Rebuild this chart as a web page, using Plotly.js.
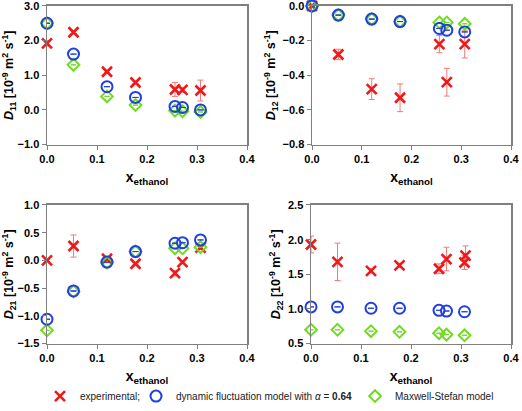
<!DOCTYPE html>
<html>
<head>
<meta charset="utf-8">
<script src="https://cdn.plot.ly/plotly-3.0.1.min.js"></script>
<style>html,body{margin:0;padding:0;background:#fff;}#chart{width:522px;height:411px;}</style>
</head>
<body>
<div id="chart"></div>
<script>
// composition (mole fraction ethanol)
const xEth = [0, 0.053, 0.120, 0.177, 0.256, 0.271, 0.307];
const xEthD22 = [0, 0.053, 0.120, 0.177, 0.256, 0.271, 0.307, 0.309];

// D11
const d11Exp = [1.92, 2.24, 1.10, 0.79, 0.59, 0.58, 0.56];
const d11ExpErr = [0.08, 0.04, 0.03, 0.03, 0.20, 0.07, 0.30];
const d11Dyn = [2.50, 1.61, 0.67, 0.36, 0.10, 0.07, 0.00];
const d11MS = [2.50, 1.30, 0.39, 0.14, -0.02, -0.04, -0.06];

// D12
const d12Exp = [0.00, -0.28, -0.48, -0.53, -0.22, -0.44, -0.22];
const d12ExpErr = [0.00, 0.03, 0.06, 0.08, 0.05, 0.08, 0.08];
const d12Dyn = [0.00, -0.053, -0.076, -0.090, -0.130, -0.140, -0.150];
const d12MS = [0.00, -0.053, -0.076, -0.090, -0.095, -0.095, -0.103];

// D21
const d21Exp = [0.00, 0.26, 0.03, -0.06, -0.23, -0.03, 0.23];
const d21ExpErr = [0.02, 0.20, 0.02, 0.02, 0.05, 0.02, 0.03];
const d21Dyn = [-1.06, -0.55, -0.03, 0.16, 0.31, 0.32, 0.37];
const d21MS = [-1.26, -0.56, -0.04, 0.16, 0.22, 0.22, 0.24];

// D22
const d22Exp = [1.93, 1.68, 1.55, 1.63, 1.58, 1.72, 1.67, 1.77];
const d22ExpErr = [0.12, 0.27, 0.03, 0.03, 0.07, 0.17, 0.10, 0.14];
const d22Dyn = [1.03, 1.03, 1.01, 1.01, 0.98, 0.97, 0.96];
const d22MS = [0.70, 0.70, 0.68, 0.67, 0.65, 0.63, 0.62];

const legendNames = ['experimental;', 'dynamic fluctuation model with <i>α</i> = <b>0.64</b>', 'Maxwell-Stefan model'];
const yTitles = ['<i>D</i><sub>11</sub> [10<sup>-9</sup> m<sup>2</sup> s<sup>-1</sup>]',
                 '<i>D</i><sub>12</sub> [10<sup>-9</sup> m<sup>2</sup> s<sup>-1</sup>]',
                 '<i>D</i><sub>21</sub> [10<sup>-9</sup> m<sup>2</sup> s<sup>-1</sup>]',
                 '<i>D</i><sub>22</sub> [10<sup>-9</sup> m<sup>2</sup> s<sup>-1</sup>]'];
const xTitle = 'x<sub>ethanol</sub>';

const RED = '#f01818', BLUE = '#1f3fe0', GREEN = '#6fdc1e', ERR = '#f07a7a';

const panels = [
  {xs: xEth, exp: d11Exp, err: d11ExpErr, dyn: d11Dyn, ms: d11MS, xa: 'x', ya: 'y'},
  {xs: xEth, exp: d12Exp, err: d12ExpErr, dyn: d12Dyn, ms: d12MS, xa: 'x2', ya: 'y2'},
  {xs: xEth, exp: d21Exp, err: d21ExpErr, dyn: d21Dyn, ms: d21MS, xa: 'x3', ya: 'y3'},
  {xs: xEthD22, exp: d22Exp, err: d22ExpErr, dyn: d22Dyn, ms: d22MS, xa: 'x4', ya: 'y4'}
];

const traces = [];
panels.forEach((p, i) => {
  traces.push({
    type: 'scatter', mode: 'markers', x: p.xs, y: p.exp, xaxis: p.xa, yaxis: p.ya,
    name: legendNames[0], legend: 'legend', showlegend: i === 0, cliponaxis: false,
    marker: {symbol: 'x-thin', size: 10, color: RED, line: {color: RED, width: 2.6}},
    error_y: {type: 'data', array: p.err, visible: true, color: ERR, thickness: 1, width: 3}
  });
  traces.push({
    type: 'scatter', mode: 'markers', x: xEth, y: p.ms, xaxis: p.xa, yaxis: p.ya,
    name: legendNames[2], legend: 'legend3', showlegend: i === 0, cliponaxis: false,
    marker: {symbol: 'diamond-open', size: 9, color: GREEN, line: {color: GREEN, width: 2}},
    error_y: {type: 'constant', value: 0, visible: true, color: GREEN, thickness: 1, width: 2.5}
  });
  traces.push({
    type: 'scatter', mode: 'markers', x: xEth, y: p.dyn, xaxis: p.xa, yaxis: p.ya,
    name: legendNames[1], legend: 'legend2', showlegend: i === 0, cliponaxis: false,
    marker: {symbol: 'circle-open', size: 11, color: BLUE, line: {color: BLUE, width: 2}},
    error_y: {type: 'constant', value: 0, visible: true, color: BLUE, thickness: 1, width: 3}
  });
});

const FONT = 'Liberation Sans, Arial, sans-serif';
const tickFont = {family: FONT, size: 11, color: '#000', weight: 700};
function xAxis(domain, anchor) {
  return {domain: domain, anchor: anchor, range: [0, 0.4], dtick: 0.1, tick0: 0, tickformat: '.1f',
    showline: true, mirror: true, linecolor: '#808080', linewidth: 1.5, ticks: 'outside', ticklen: 4,
    tickcolor: '#808080', showgrid: false, zeroline: false, tickfont: tickFont, ticklabeloverflow: 'allow',
    title: {text: xTitle, font: {family: FONT, size: 14, color: '#000', weight: 700}, standoff: 8}};
}
function yAxis(domain, anchor, range, dtick, title) {
  return {domain: domain, anchor: anchor, range: range, dtick: dtick, tick0: range[0], tickformat: '.1f',
    showline: true, mirror: true, linecolor: '#808080', linewidth: 1.5, ticks: 'outside', ticklen: 4,
    tickcolor: '#808080', showgrid: false, zeroline: false, tickfont: tickFont, ticklabeloverflow: 'allow',
    title: {text: title, font: {family: FONT, size: 12.5, color: '#000', weight: 700}, standoff: 4}};
}
const W = 522, H = 411;
const colL = [47 / W, 247 / W], colR1 = [312 / W, 511 / W], colR2 = [311 / W, 511 / W];
const rowT = [1 - 146 / H, 1 - 6 / H], rowB = [1 - 347 / H, 1 - 207 / H];

function legendAt(px) {
  return {orientation: 'h', x: px / W, xanchor: 'left', y: 1 - 400 / H, yanchor: 'middle',
    font: {family: FONT, size: 10, color: '#222'}, itemwidth: 30, bgcolor: 'rgba(0,0,0,0)', borderwidth: 0};
}

const layout = {
  width: W, height: H, margin: {l: 0, r: 0, t: 0, b: 0},
  paper_bgcolor: '#fff', plot_bgcolor: '#fff',
  font: {family: FONT, color: '#000'},
  xaxis: xAxis(colL, 'y'), yaxis: yAxis(rowT, 'x', [-1, 3], 1, yTitles[0]),
  xaxis2: xAxis(colR1, 'y2'), yaxis2: yAxis(rowT, 'x2', [-0.8, 0], 0.2, yTitles[1]),
  xaxis3: xAxis(colL, 'y3'), yaxis3: yAxis(rowB, 'x3', [-1.5, 1], 0.5, yTitles[2]),
  xaxis4: xAxis(colR2, 'y4'), yaxis4: yAxis(rowB, 'x4', [0.5, 2.5], 0.5, yTitles[3]),
  showlegend: true,
  legend: legendAt(40),
  legend2: legendAt(136),
  legend3: legendAt(355)
};

Plotly.newPlot('chart', traces, layout, {displayModeBar: false, staticPlot: true});
</script>
</body>
</html>
